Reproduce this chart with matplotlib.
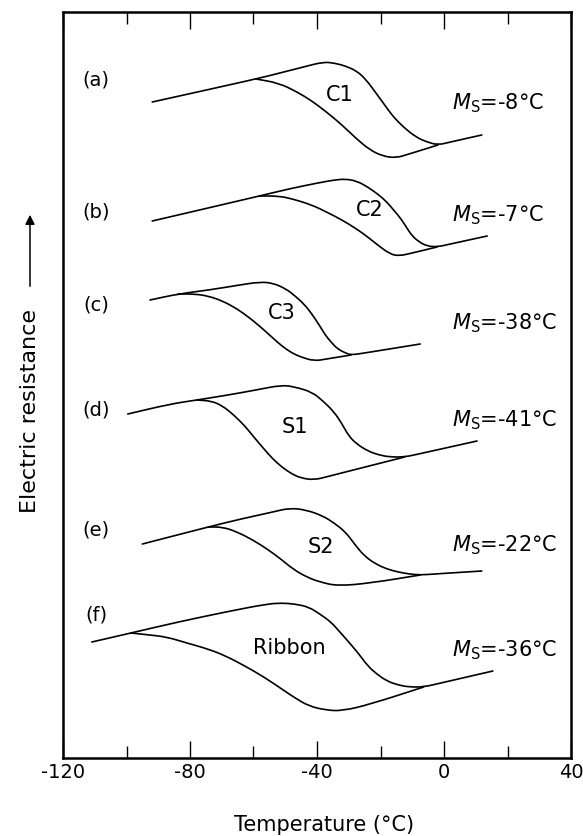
import numpy as np
import matplotlib.pyplot as plt
from matplotlib.path import Path
from matplotlib.patches import PathPatch

plt.rcParams['font.family'] = ['DejaVu Sans']
plt.rcParams['axes.unicode_minus'] = False
plt.rcParams['mathtext.fontset'] = 'dejavusans'

# resistance in arbitrary units, temperature in degC
# (a) C1
a_up_T = [-91.9, -59.2, -51.7, -44.3, -38.1, -34.6, -31.0, -27.5, -24.7, -21.2, -18.0, -15.9, -12.8, -8.9, -5.4, -1.9, 2.0, 11.9]
a_up_R = [65.6, 67.9, 68.5, 69.1, 69.6, 69.5, 69.2, 68.7, 67.9, 66.4, 65.0, 64.1, 63.1, 62.1, 61.6, 61.3, 61.6, 62.3]
a_lo_T = [-59.2, -52.1, -46.2, -41.6, -37.0, -32.1, -27.5, -23.3, -19.4, -15.2, -11.0, -1.9]
a_lo_R = [67.9, 67.5, 66.6, 65.7, 64.6, 63.3, 61.9, 60.8, 60.2, 60.0, 60.4, 61.3]

# (b) C2
b_up_T = [-91.9, -58.1, -49.0, -39.8, -34.6, -31.0, -27.5, -24.0, -20.5, -18.0, -15.6, -13.5, -11.7, -10.0, -7.8, -5.4, -2.2, 2.0, 13.6]
b_up_R = [53.7, 56.2, 56.9, 57.5, 57.8, 57.9, 57.7, 57.1, 56.3, 55.6, 54.7, 53.9, 53.0, 52.2, 51.6, 51.2, 51.1, 51.4, 52.2]
b_lo_T = [-58.1, -52.1, -47.6, -41.6, -37.0, -32.1, -27.5, -24.0, -20.5, -17.0, -14.2, -10.0, -2.2]
b_lo_R = [56.2, 56.2, 55.9, 55.3, 54.6, 53.8, 52.9, 52.1, 51.2, 50.4, 50.2, 50.5, 51.1]

# (c) C3
c_up_T = [-92.6, -83.8, -74.0, -64.4, -58.1, -53.9, -49.7, -46.9, -44.1, -41.6, -39.1, -37.4, -35.6, -33.5, -31.0, -29.3, -25.0, -7.5]
c_up_R = [45.8, 46.4, 46.8, 47.3, 47.6, 47.5, 46.9, 46.2, 45.4, 44.4, 43.2, 42.3, 41.6, 40.9, 40.5, 40.3, 40.5, 41.4]
c_lo_T = [-83.8, -78.5, -74.3, -69.7, -65.1, -61.6, -58.1, -54.6, -51.1, -47.9, -45.1, -40.9, -37.0, -29.3]
c_lo_R = [46.4, 46.4, 46.2, 45.7, 44.9, 44.1, 43.2, 42.2, 41.2, 40.5, 40.1, 39.7, 39.9, 40.3]

# (d) S1
d_up_T = [-99.6, -86.2, -77.8, -68.0, -59.2, -51.1, -46.9, -41.6, -38.1, -34.6, -32.1, -30.0, -27.5, -24.0, -20.5, -17.0, -12.4, -8.0, 10.4]
d_up_R = [34.4, 35.4, 35.8, 36.3, 36.8, 37.3, 37.1, 36.6, 35.7, 34.6, 33.4, 32.2, 31.4, 30.7, 30.3, 30.1, 30.1, 30.4, 31.7]
d_lo_T = [-77.8, -73.2, -69.7, -66.2, -62.7, -59.9, -56.7, -53.9, -51.1, -47.9, -45.1, -40.9, -36.0, -12.4]
d_lo_R = [35.8, 35.7, 35.2, 34.3, 33.2, 32.1, 30.9, 29.9, 29.1, 28.4, 28.0, 27.8, 28.2, 30.1]

# (e) S2
e_up_T = [-95.0, -74.3, -64.0, -53.9, -48.6, -43.3, -38.1, -34.6, -31.0, -28.2, -25.1, -21.5, -18.0, -14.5, -11.0, -7.5, -3.0, 11.9]
e_up_R = [21.4, 23.1, 23.9, 24.6, 25.0, 24.8, 24.2, 23.5, 22.6, 21.4, 20.2, 19.4, 18.9, 18.6, 18.4, 18.3, 18.4, 18.7]
e_lo_T = [-74.3, -69.7, -65.1, -60.2, -55.7, -51.4, -47.6, -43.3, -39.1, -33.5, -23.0, -7.5]
e_lo_R = [23.1, 23.1, 22.6, 21.8, 20.9, 19.9, 18.9, 18.1, 17.6, 17.2, 17.5, 18.3]

# (f) Ribbon
f_up_T = [-110.9, -98.6, -83.8, -67.3, -55.7, -51.1, -46.9, -42.6, -39.1, -35.6, -32.8, -30.0, -26.8, -24.0, -21.2, -18.0, -14.5, -11.0, -6.4, -1.0, 15.4]
f_up_R = [11.6, 12.5, 13.6, 14.7, 15.4, 15.5, 15.4, 15.1, 14.4, 13.6, 12.6, 11.6, 10.4, 9.2, 8.4, 7.7, 7.3, 7.1, 7.1, 7.5, 8.7]
f_lo_T = [-98.6, -92.6, -87.3, -81.0, -74.3, -68.7, -62.7, -56.7, -51.1, -46.9, -42.6, -37.4, -32.1, -23.0, -6.4]
f_lo_R = [12.5, 12.3, 12.1, 11.5, 10.9, 10.2, 9.2, 8.1, 6.9, 6.0, 5.2, 4.8, 4.7, 5.4, 7.1]

panels = ['(a)', '(b)', '(c)', '(d)', '(e)', '(f)']
names = ['C1', 'C2', 'C3', 'S1', 'S2', 'Ribbon']
ms_values = ['-8', '-7', '-38', '-41', '-22', '-36']

curves = [
    (a_up_T, a_up_R, a_lo_T, a_lo_R),
    (b_up_T, b_up_R, b_lo_T, b_lo_R),
    (c_up_T, c_up_R, c_lo_T, c_lo_R),
    (d_up_T, d_up_R, d_lo_T, d_lo_R),
    (e_up_T, e_up_R, e_lo_T, e_lo_R),
    (f_up_T, f_up_R, f_lo_T, f_lo_R),
]

# label positions (data coords)
panel_R = [67.9, 54.7, 45.4, 34.9, 22.9, 14.4]
name_xy = [(-32.8, 66.4), (-23.3, 54.9), (-51.1, 44.6), (-46.9, 33.2), (-38.8, 21.2), (-48.6, 11.1)]
ms_R = [65.6, 54.4, 43.6, 33.9, 21.4, 10.9]


def smooth(T, R):
    # quadratic segments between midpoints, so the line bends round the read points
    p = np.column_stack([T, R])
    mid = (p[:-1] + p[1:]) / 2
    verts = [p[0], mid[0]]
    codes = [Path.MOVETO, Path.LINETO]
    for i in range(1, len(p) - 1):
        verts += [p[i], mid[i]]
        codes += [Path.CURVE3, Path.CURVE3]
    verts.append(p[-1])
    codes.append(Path.LINETO)
    return Path(verts, codes)


fig = plt.figure(figsize=(5.83, 8.37), dpi=100)
ax = fig.add_axes([63 / 583, 78 / 837, 508 / 583, 746 / 837])

for (uT, uR, lT, lR) in curves:
    for T, R in ((uT, uR), (lT, lR)):
        ax.add_patch(PathPatch(smooth(T, R), fill=False, edgecolor='k', lw=1.2,
                               joinstyle='round', capstyle='round'))

for i in range(6):
    ax.text(-109.5, panel_R[i], panels[i], fontsize=14, ha='center', va='center')
    ax.text(name_xy[i][0], name_xy[i][1], names[i], fontsize=15, ha='center', va='center')
    ax.text(2.4, ms_R[i], r'$M_\mathrm{S}$=-' + ms_values[i].lstrip('-') + '°C',
            fontsize=15, ha='left', va='center')

ax.set_xlim(-120, 40)
ax.set_ylim(0, 74.6)
ax.set_xticks([-120, -80, -40, 0, 40])
ax.set_xticks([-100, -60, -20, 20], minor=True)
ax.set_yticks([])
ax.tick_params(axis='x', which='both', direction='in', top=True, bottom=True,
               width=1.0, labelsize=14, pad=3)
ax.tick_params(axis='x', which='major', length=12)
ax.tick_params(axis='x', which='minor', length=8.5)
for s in ax.spines.values():
    s.set_linewidth(1.8)

ax.set_xlabel('Temperature (°C)', fontsize=15)
ax.xaxis.set_label_coords((324 - 63) / 508, (759 - 815) / 746)
ax.set_ylabel('Electric resistance', fontsize=16)
ax.yaxis.set_label_coords((30 - 63) / 508, (759 - 411) / 746)
ax.yaxis.label.set_va('center')

ax.annotate('', xy=(30 / 583, 1 - 213 / 837), xytext=(30 / 583, 1 - 290 / 837),
            xycoords='figure fraction', textcoords='figure fraction',
            arrowprops=dict(arrowstyle='-|>', color='k', lw=1.1, mutation_scale=14))

fig.savefig('out.png', dpi=100)
